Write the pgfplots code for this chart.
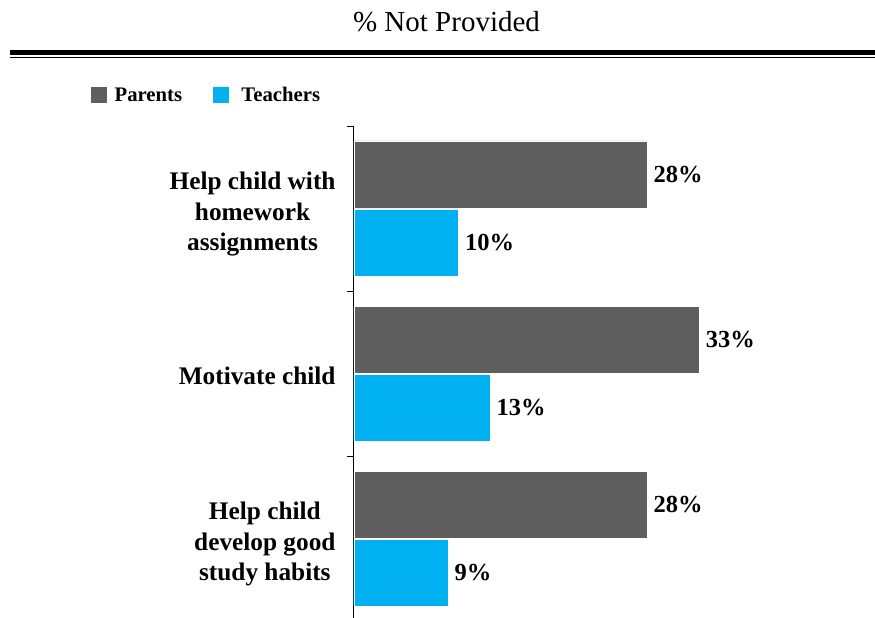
\documentclass[border=0pt]{standalone}
\usepackage{fontspec}
\setmainfont{Liberation Serif}
\usepackage{pgfplots}
\pgfplotsset{compat=1.18}
\definecolor{pgray}{HTML}{5F5F5F}
\definecolor{tblue}{HTML}{00B0F0}
\begin{document}
\begin{tikzpicture}[x=1pt,y=1pt]
\useasboundingbox (0,0) rectangle (875,618);
\node[anchor=base, font=\fontsize{29}{34}\selectfont, inner sep=0pt] at (446.5,586) {\% Not Provided};
\fill (10,568) rectangle (875,563);
\fill (10,561) rectangle (875,559.5);
\begin{axis}[
  at={(353.7pt,492pt)}, anchor=north west,
  scale only axis, width=523.5pt, height=495pt,
  xbar, xmin=0, xmax=50,
  ymin=-0.5, ymax=2.5, y dir=reverse,
  axis x line=none, axis y line*=left,
  axis line style={line width=0.8pt},
  ytick={0,1,2},
  yticklabels={{\rule{0pt}{25pt}Help child with\\homework\\assignments},{Motivate child},{\rule{0pt}{25pt}Help child\\develop good\\study habits}},
  minor ytick={-0.5,0.5,1.5,2.5},
  major tick length=0pt, minor tick length=7pt, tick align=outside,
  minor tick style={line width=0.8pt, black},
  yticklabel style={font=\bfseries\fontsize{25.3}{30.5}\selectfont, align=center, inner sep=0pt, anchor=east, xshift=-18pt, yshift=-2pt},
  bar width=67pt,
  point meta=x,
  nodes near coords={\pgfmathprintnumber[assume math mode=true]{\pgfplotspointmeta}\%},
  nodes near coords style={font=\bfseries\fontsize{24.5}{29}\selectfont, inner sep=0pt, anchor=west, xshift=6.5pt},
  legend columns=2,
  legend style={at={(-0.5037,1.0626)}, anchor=west, draw=none, fill=none, inner sep=0pt,
    font=\bfseries\fontsize{20.7}{24}\selectfont, column sep=0pt,
    nodes={inner sep=0pt},
    /tikz/every odd column/.append style={column sep=7pt},
    /tikz/every even column/.append style={column sep=30pt}},
  legend image code/.code={\fill[#1] (0pt,-8.5pt) rectangle (17pt,8.5pt);},
]
\addplot[fill=pgray, draw=white, line width=0.4pt, bar shift=34pt] coordinates {(28,0) (33,1) (28,2)};
\addplot[fill=tblue, draw=white, line width=0.4pt, bar shift=-34pt] coordinates {(10,0) (13,1) (9,2)};
\legend{Parents,\hspace{5pt}Teachers}
\end{axis}
\end{tikzpicture}
\end{document}
